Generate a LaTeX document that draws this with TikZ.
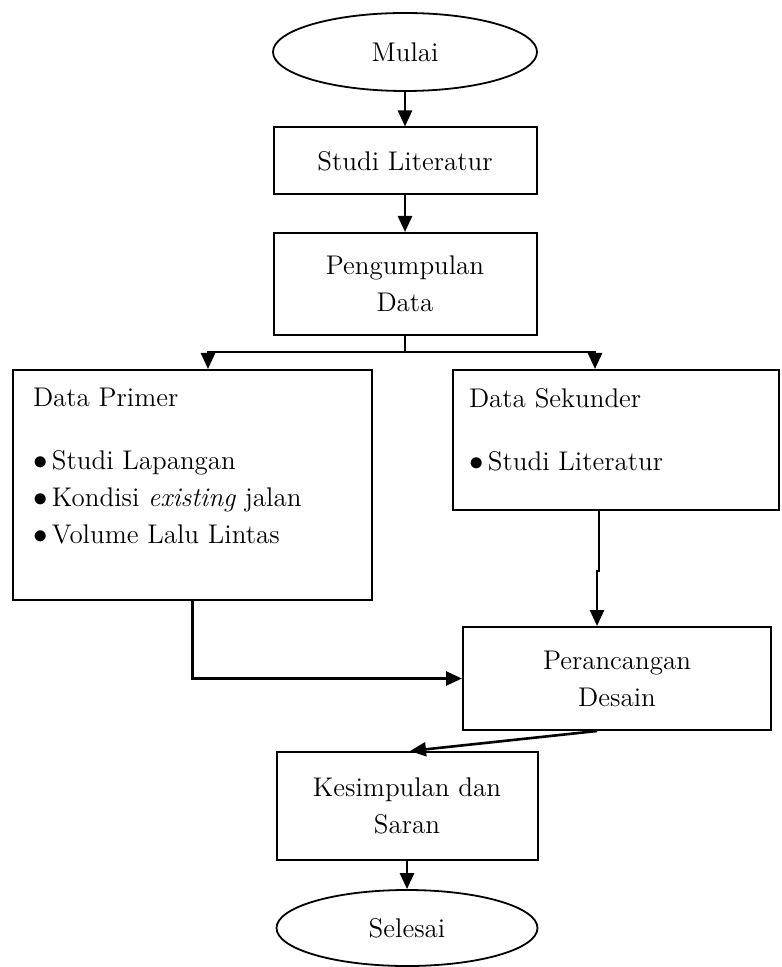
\documentclass[tikz,border=0pt]{standalone}
\usepackage{amsmath}
\usepackage{tikz}
\usetikzlibrary{positioning,shapes.geometric,arrows.meta,calc}

\begin{document}
\begin{tikzpicture}[->,>={Triangle[width=7pt,length=8pt]},x=0.5pt,y=-0.5pt,
line width=1.3pt, font=\fontsize{13.5}{18.5}\selectfont]
   \tikzstyle{terminal}=[ellipse,draw=black,line width=0.9pt,inner sep=0pt]
   \tikzstyle{process}=[rectangle,draw=black,line width=1pt,inner sep=0pt,align=center]
\useasboundingbox (0,0) rectangle (781,967);
\node[terminal, minimum width=132pt, minimum height=39pt] (mulai) at (405,52) {Mulai};
  \node[process, minimum width=131.5pt, minimum height=33.5pt] (studi) at (405,161) {Studi Literatur};
  \node[process, minimum width=131.5pt, minimum height=51pt] (kumpul) at (405,284) {Pengumpulan\\Data};
  \node[process] (primer) at (192.5,485)
{\parbox[c][115pt][t]{179.5pt}{\vspace{9pt}\leftskip=10pt
Data Primer\par\vspace{13pt}
$\bullet$\,Studi Lapangan\par
$\bullet$\,Kondisi \textit{existing} jalan\par
$\bullet$\,Volume Lalu Lintas}};
  \node[process] (sekunder) at (616,440)
{\parbox[c][70pt][t]{163pt}{\vspace{9pt}\leftskip=8pt
Data Sekunder\par\vspace{13pt}
$\bullet$\,Studi Literatur}};
  \node[process, minimum width=154pt, minimum height=51.5pt] (rancang) at (617,678.5) {Perancangan\\Desain};
  \node[process, minimum width=130.5pt, minimum height=54pt] (simpul) at (407,806) {Kesimpulan dan\\Saran};
  \node[terminal, minimum width=130.5pt, minimum height=38pt] (selesai) at (407,928) {Selesai};

\coordinate (cabang) at (405,352);
 \draw (mulai) -- (studi);
 \draw (studi) -- (kumpul);
 \draw[-] (kumpul) -- (cabang);
 \draw (cabang) -| ([xshift=7.75pt]primer.north);
 \draw (cabang) -| ([xshift=-10.5pt]sekunder.north);
 \draw ([xshift=-8.5pt]sekunder.south) -- ++(0,60) -| ([xshift=-10pt]rancang.north);
 \draw (primer.south) |- (rancang.west);
 \draw ([xshift=-10pt]rancang.south) -- ([xshift=1.5pt]simpul.north);
 \draw (simpul) -- (selesai);
\end{tikzpicture}
\end{document}
